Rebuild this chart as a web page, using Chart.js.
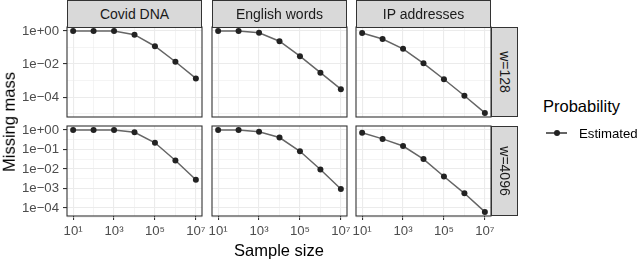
<!DOCTYPE html>
<html><head><meta charset="utf-8">
<script src="https://cdn.jsdelivr.net/npm/chart.js@4.4.1/dist/chart.umd.min.js"></script>
<style>
html,body{margin:0;padding:0;background:#fff;}
#root{position:relative;width:640px;height:261px;overflow:hidden;font-family:'Liberation Sans',Arial,Helvetica,sans-serif;}
canvas{position:absolute;}
.strip{position:absolute;box-sizing:border-box;background:#D9D9D9;border:1px solid #333;color:#1A1A1A;font-size:14px;display:flex;align-items:center;justify-content:center;white-space:nowrap;}
.lbl{position:absolute;white-space:nowrap;line-height:1;}
</style></head><body><div id="root"></div>
<script>
// ---- data ----
const sampleSizes = [1e1, 1e2, 1e3, 1e4, 1e5, 1e6, 1e7];
const datasetNames = ['Covid DNA', 'English words', 'IP addresses'];
const widthLabels = ['w=128', 'w=4096'];
const seriesName = 'Estimated';
const legendTitle = 'Probability';
const xTitle = 'Sample size';
const yTitle = 'Missing mass';

const covidW128   = [0.99, 0.99, 0.99, 0.60, 0.12, 0.0138, 0.00135];
const englishW128 = [0.99, 0.99, 0.79, 0.24, 0.030, 0.0030, 0.00030];
const ipW128      = [0.76, 0.33, 0.083, 0.011, 0.0012, 0.00012, 0.000011];
const covidW4096   = [0.99, 0.99, 0.99, 0.76, 0.22, 0.027, 0.0028];
const englishW4096 = [0.99, 0.99, 0.81, 0.41, 0.081, 0.0093, 0.00093];
const ipW4096      = [0.72, 0.35, 0.15, 0.032, 0.0041, 0.00056, 0.000062];

const xMajorTicks = [1e1, 1e3, 1e5, 1e7];
const xTickLabels = ['10\u00B9', '10\u00B3', '10\u2075', '10\u2077'];
const xMinorTicks = [1e2, 1e4, 1e6];

const yMajorTicksTop = [1e-4, 1e-2, 1];
const yTickLabelsTop = ['1e\u221204', '1e\u221202', '1e+00'];
const yMinorTicksTop = [1e-5, 1e-3, 1e-1];

const yMajorTicksBottom = [1e-4, 1e-3, 1e-2, 1e-1, 1];
const yTickLabelsBottom = ['1e\u221204', '1e\u221203', '1e\u221202', '1e\u221201', '1e+00'];
const yMinorTicksBottom = [3.162e-5, 3.162e-4, 3.162e-3, 3.162e-2, 3.162e-1];

const rows = [[covidW128, englishW128, ipW128], [covidW4096, englishW4096, ipW4096]];

// ---- layout ----
const FF = "'Liberation Sans', Arial, Helvetica, sans-serif";
const root = document.getElementById('root');
const panelLefts = [67, 212, 356];
const panelTops = [27, 126];
const PW = 135, PH = 90;
const LINE_COLOR = '#656565', POINT_COLOR = '#222222';

function expandedLogRange(values) {
  const logs = values.map(v => Math.log10(v));
  const lo = Math.min(...logs), hi = Math.max(...logs);
  const pad = 0.05 * (hi - lo);
  return [Math.pow(10, lo - pad), Math.pow(10, hi + pad)];
}
const xRange = expandedLogRange(sampleSizes);
const yRanges = rows.map(r => expandedLogRange([].concat(...r)));

const borderPlugin = {
  id: 'panelBorder',
  afterDraw(chart) {
    const {ctx, chartArea: a} = chart;
    ctx.save();
    ctx.strokeStyle = '#333333';
    ctx.lineWidth = 1.1;
    ctx.strokeRect(a.left, a.top, a.right - a.left, a.bottom - a.top);
    ctx.restore();
  }
};

function near(v, arr) { return arr.some(t => Math.abs(Math.log10(t) - Math.log10(v)) < 1e-6); }
function zeroPad(s) { s.paddingTop = 0; s.paddingBottom = 0; s.paddingLeft = 0; s.paddingRight = 0; }

function makeChart(r, c) {
  const yw = c === 0 ? 60 : 0;
  const padL = c === 0 ? 0 : 15;
  const padR = 15, padT = 10;
  const xh = r === 1 ? 40 : 0;
  const padB = r === 1 ? 0 : 6;
  const cw = PW + yw + padL + padR, ch = PH + xh + padT + padB;
  const cv = document.createElement('canvas');
  cv.width = cw; cv.height = ch;
  cv.style.width = cw + 'px'; cv.style.height = ch + 'px';
  cv.style.left = (panelLefts[c] - yw - padL) + 'px';
  cv.style.top = (panelTops[r] - padT) + 'px';
  root.appendChild(cv);

  const yMaj = r === 0 ? yMajorTicksTop : yMajorTicksBottom;
  const yLab = r === 0 ? yTickLabelsTop : yTickLabelsBottom;
  const yMin = r === 0 ? yMinorTicksTop : yMinorTicksBottom;
  const yAll = yMaj.concat(yMin).sort((a, b) => a - b);
  const xAll = xMajorTicks.concat(xMinorTicks).sort((a, b) => a - b);
  const vals = rows[r][c];

  new Chart(cv, {
    type: 'scatter',
    data: {
      datasets: [{
        label: seriesName,
        data: sampleSizes.map((x, i) => ({x: x, y: vals[i]})),
        showLine: true,
        borderColor: LINE_COLOR,
        borderWidth: 1.5,
        pointRadius: 3,
        pointBorderWidth: 0,
        pointBackgroundColor: POINT_COLOR,
        pointBorderColor: POINT_COLOR,
        clip: false
      }]
    },
    options: {
      responsive: false,
      animation: false,
      devicePixelRatio: 1,
      events: [],
      layout: {autoPadding: false, padding: {left: padL, right: padR, top: padT, bottom: padB}},
      plugins: {legend: {display: false}, tooltip: {enabled: false}},
      scales: {
        x: {
          type: 'logarithmic', min: xRange[0], max: xRange[1], bounds: 'data',
          afterBuildTicks(s) { s.ticks = xAll.map(v => ({value: v})); },
          afterFit(s) { s.height = xh; zeroPad(s); },
          border: {display: false},
          grid: {
            color: '#EBEBEB',
            lineWidth: ctx => (ctx.tick && near(ctx.tick.value, xMajorTicks)) ? 1.1 : 0.55,
            drawTicks: r === 1, tickLength: 4, tickWidth: 1.1,
            tickColor: ctx => (ctx.tick && near(ctx.tick.value, xMajorTicks)) ? '#333333' : 'rgba(0,0,0,0)'
          },
          ticks: {
            display: r === 1, autoSkip: false, maxRotation: 0, minRotation: 0, padding: 3,
            color: '#4D4D4D', font: {size: 13.2, family: FF},
            callback(v) { const i = xMajorTicks.findIndex(t => near(v, [t])); return i >= 0 ? xTickLabels[i] : ''; }
          }
        },
        y: {
          type: 'logarithmic', min: yRanges[r][0], max: yRanges[r][1], bounds: 'data',
          afterBuildTicks(s) { s.ticks = yAll.map(v => ({value: v})); },
          afterFit(s) { s.width = yw; zeroPad(s); },
          border: {display: false},
          grid: {
            color: '#EBEBEB',
            lineWidth: ctx => (ctx.tick && near(ctx.tick.value, yMaj)) ? 1.1 : 0.55,
            drawTicks: c === 0, tickLength: 4, tickWidth: 1.1,
            tickColor: ctx => (ctx.tick && near(ctx.tick.value, yMaj)) ? '#333333' : 'rgba(0,0,0,0)'
          },
          ticks: {
            display: c === 0, autoSkip: false, padding: 4,
            color: '#4D4D4D', font: {size: 13.2, family: FF},
            callback(v) { const i = yMaj.findIndex(t => near(v, [t])); return i >= 0 ? yLab[i] : ''; }
          }
        }
      }
    },
    plugins: [borderPlugin]
  });
}

for (let r = 0; r < 2; r++) for (let c = 0; c < 3; c++) makeChart(r, c);

// strips
datasetNames.forEach((n, c) => {
  const d = document.createElement('div');
  d.className = 'strip';
  d.style.left = panelLefts[c] + 'px'; d.style.top = '0px';
  d.style.width = PW + 'px'; d.style.height = '28px';
  d.textContent = n;
  root.appendChild(d);
});
widthLabels.forEach((n, r) => {
  const d = document.createElement('div');
  d.className = 'strip';
  d.style.left = '491px'; d.style.top = panelTops[r] + 'px';
  d.style.width = '27px'; d.style.height = PH + 'px';
  const s = document.createElement('span');
  s.style.transform = 'rotate(90deg)'; s.style.display = 'inline-block';
  s.textContent = n;
  d.appendChild(s);
  root.appendChild(d);
});

function addLabel(text, x, y, size, color, rot, anchor) {
  const d = document.createElement('div');
  d.className = 'lbl';
  d.style.fontSize = size + 'px';
  d.style.color = color;
  d.textContent = text;
  d.style.left = x + 'px'; d.style.top = y + 'px';
  const tx = anchor === 'left' ? '0' : '-50%';
  d.style.transform = 'translate(' + tx + ',-50%)' + (rot ? ' rotate(' + rot + 'deg)' : '');
  root.appendChild(d);
  return d;
}
addLabel(xTitle, 279, 250, 16.5, '#000', 0);
addLabel(yTitle, 9, 121.5, 16.5, '#000', -90);
addLabel(legendTitle, 543, 106, 16.5, '#000', 0, 'left');
addLabel(seriesName, 579, 133.5, 13.2, '#000', 0, 'left');
// legend key
const kl = document.createElement('div');
kl.style.cssText = 'position:absolute;left:546px;top:132px;width:21px;height:1.5px;background:' + LINE_COLOR + ';';
root.appendChild(kl);
const kp = document.createElement('div');
kp.style.cssText = 'position:absolute;left:553.5px;top:129.8px;width:6px;height:6px;border-radius:50%;background:' + POINT_COLOR + ';';
root.appendChild(kp);
</script></body></html>
